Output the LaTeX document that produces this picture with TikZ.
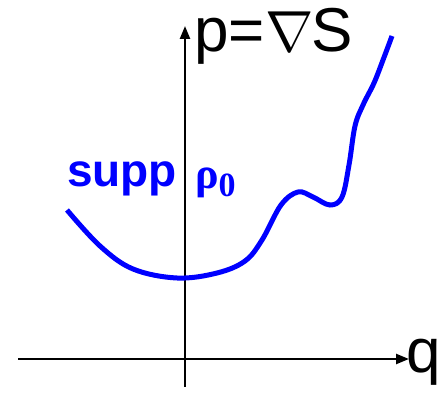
\documentclass[tikz,border=0pt]{standalone}
\usepackage{fix-cm}
\usepackage{fontspec}
\setmainfont{Liberation Sans}
\newfontfamily\serifbold{Liberation Serif}
\usetikzlibrary{arrows.meta}
\definecolor{curveblue}{RGB}{0,0,255}
\begin{document}
\begin{tikzpicture}[x=1pt,y=-1pt,
  axis/.style={line width=2.4pt,-{Triangle[length=13pt,width=10pt]}},
  bigtext/.style={font=\fontsize{62}{64}\selectfont,inner sep=0pt},
  curve/.style={line width=5pt,curveblue,line cap=butt}]
\useasboundingbox (0,0) rectangle (448,393);
\coordinate (xs) at (18,359);
\coordinate (xe) at (409,359);
\coordinate (ys) at (185,387);
\coordinate (ye) at (185,26);
\draw[axis] (xs) -- (xe);
\draw[axis] (ys) -- (ye);
\node[bigtext,anchor=base west] (plabel) at (194,52) {p=\hspace{1pt}{\fontsize{58}{60}\selectfont$\nabla$}\hspace{-3pt}S};
\node[bigtext,anchor=base west] (qlabel) at (406,373) {q};
\node[anchor=base west,inner sep=0pt,text=curveblue] (supp) at (67,187)
  {\fontsize{46}{48}\selectfont\bfseries supp};
\node[anchor=base west,inner sep=0pt,text=curveblue] (rho) at (195,189)
  {\serifbold\fontsize{44}{46}\selectfont\bfseries ρ\raisebox{-8pt}{\fontsize{34}{36}\selectfont 0}};
\draw[curve] plot[smooth,tension=0.6] coordinates {
  (67,210) (100,246) (133,269) (177,278) (217,273) (245,261) (262,240)
  (281,205) (298,192) (313,197) (330,205) (342,197) (349,165) (355,126)
  (363,105) (374,83) (383,60) (392,36)};
\end{tikzpicture}
\end{document}
